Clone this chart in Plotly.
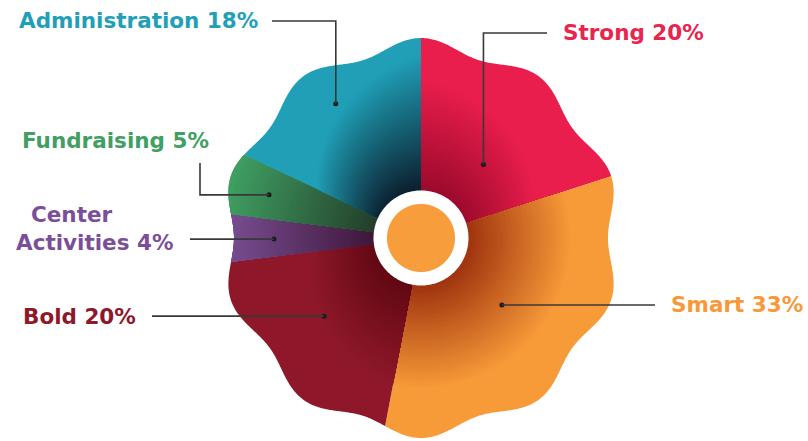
import numpy as np
import plotly.graph_objects as go

# ---------------- data ----------------
labels = ["Strong", "Smart", "Bold", "Center Activities", "Fundraising", "Administration"]
values = [20, 33, 20, 4, 5, 18]

# ---------------- styles ----------------
base_colors = ["#E91E4C", "#F79A38", "#8E1829", "#7B5096", "#3FA062", "#209FB7"]
deep_colors = ["#96082A", "#992C0C", "#5E0711", "#3C1434", "#233827", "#0A1926"]
text_colors = ["#E8254D", "#F7993A", "#8E1829", "#7B4F98", "#40A062", "#1FA0B8"]

W, H = 808, 441
CX, CY = 421, 238          # pie centre in pixels
RMAX = 201                 # radial axis range (px)
R0, AMP, LOBES = 193.5, 6.5, 10
HOLE_R, CORE_R = 47.5, 34
CORE_COLOR = "#F79D3B"
GRAD_L = [(160, 120), (150, 150), (150, 110), (200, 200), (200, 200), (115, 185)]
ANCHOR_FRAC = [0.56, 0.485, 0.56, 0.47, 0.48, 0.5]
ANCHOR_R = [96.5, 105, 124.5, 147, 158, 159]
LINE_COLOR = "#383838"
N_LAYERS = 45
INNER = 40.0
FONT = dict(family="DejaVu Sans", size=21.5, weight=700)

def hex2rgb(h):
    h = h.lstrip("#")
    return np.array([int(h[i:i + 2], 16) for i in (0, 2, 4)], dtype=float)

def mix(c1, c2, t):
    a, b = hex2rgb(c1), hex2rgb(c2)
    c = a + (b - a) * t
    return "rgb(%d,%d,%d)" % tuple(np.clip(np.round(c), 0, 255))

def outer_r(theta):
    return R0 + AMP * np.cos(np.radians(theta) * LOBES)

fig = go.Figure()

total = float(sum(values))
bounds = np.concatenate([[0], np.cumsum(values) / total * 360.0])

for i in range(len(values)):
    t0, t1 = bounds[i], bounds[i + 1]
    n = max(int((t1 - t0) * 3), 12)
    th = np.linspace(t0, t1, n)
    ro = outer_r(th)
    L = GRAD_L[i][0] + (GRAD_L[i][1] - GRAD_L[i][0]) * (th - t0) / (t1 - t0)
    layers = [(ro, base_colors[i])]
    for k in range(1, N_LAYERS + 1):
        s = 1.0 - k / N_LAYERS
        rk = np.minimum(INNER + (s + 1.0 / N_LAYERS) * (L - INNER), ro)
        col = mix(deep_colors[i], base_colors[i], s + 0.5 / N_LAYERS)
        layers.append((rk, col))
    for rk, col in layers:
        fig.add_trace(go.Scatterpolar(
            r=np.concatenate([[0], rk, [0]]),
            theta=np.concatenate([[t0], th, [t1]]),
            mode="lines", fill="toself", fillcolor=col,
            line=dict(width=0, color=col), hoverinfo="skip", showlegend=False))

# centre: white ring + orange disc
circ = np.linspace(0, 360, 181)
fig.add_trace(go.Scatterpolar(r=np.full_like(circ, HOLE_R), theta=circ, mode="lines",
                              fill="toself", fillcolor="white", line=dict(width=0, color="white"),
                              hoverinfo="skip", showlegend=False))
fig.add_trace(go.Scatterpolar(r=np.full_like(circ, CORE_R), theta=circ, mode="lines",
                              fill="toself", fillcolor=CORE_COLOR, line=dict(width=0, color=CORE_COLOR),
                              hoverinfo="skip", showlegend=False))

# anchor dots
anchor_theta = [bounds[i] + ANCHOR_FRAC[i] * (bounds[i + 1] - bounds[i]) for i in range(len(values))]
fig.add_trace(go.Scatterpolar(r=ANCHOR_R, theta=anchor_theta, mode="markers",
                              marker=dict(size=5, color="#1a1a1a"),
                              hoverinfo="skip", showlegend=False))

def px(r, th):
    x = CX + r * np.sin(np.radians(th))
    y = CY - r * np.cos(np.radians(th))
    return x, y

def P(x, y):
    return "%.5f,%.5f" % (x / W, 1 - y / H)

# leader line routes (pixel layout)
routes = {
    "Strong": [("V", 33), ("H", 547)],
    "Smart": [("H", 655)],
    "Bold": [("H", 152)],
    "Center Activities": [("H", 190)],
    "Fundraising": [("H", 200), ("V", 163)],
    "Administration": [("V", 21), ("H", 272)],
}
shapes = []
for i, lab in enumerate(labels):
    x, y = px(ANCHOR_R[i], anchor_theta[i])
    path = "M" + P(x, y)
    for kind, v in routes[lab]:
        if kind == "H":
            x = v
        else:
            y = v
        path += " L" + P(x, y)
    shapes.append(dict(type="path", xref="paper", yref="paper", path=path,
                       line=dict(color=LINE_COLOR, width=1.6)))

# labels (pixel layout): x, y, text prefix
label_pos = {
    "Strong": (561, 33, "Strong"),
    "Smart": (669, 304, "Smart"),
    "Bold": (21, 316, "Bold"),
    "Center Activities": (14, 228, "\u00a0\u00a0Center<br>Activities"),
    "Fundraising": (20, 140, "Fundraising"),
    "Administration": (17, 20, "Administration"),
}
annotations = []
for i, lab in enumerate(labels):
    x, y, txt = label_pos[lab]
    annotations.append(dict(x=x / W, y=1 - y / H, xref="paper", yref="paper",
                            text="%s %d%%" % (txt, values[i]), showarrow=False,
                            xanchor="left", yanchor="middle", align="left",
                            font=dict(color=text_colors[i], **FONT)))

fig.update_layout(
    width=W, height=H, margin=dict(l=0, r=0, t=0, b=0),
    paper_bgcolor="white", plot_bgcolor="white", showlegend=False,
    polar=dict(
        domain=dict(x=[(CX - RMAX) / W, (CX + RMAX) / W],
                    y=[(H - CY - RMAX) / H, (H - CY + RMAX) / H]),
        bgcolor="rgba(0,0,0,0)",
        radialaxis=dict(visible=False, range=[0, RMAX], showgrid=False),
        angularaxis=dict(visible=False, rotation=90, direction="clockwise", showgrid=False),
    ),
    shapes=shapes, annotations=annotations,
)

fig.write_html("out.html", config={"displayModeBar": False},
               post_script="document.body.style.margin='0';document.body.style.padding='0';"
                           "document.body.style.overflow='hidden';")
